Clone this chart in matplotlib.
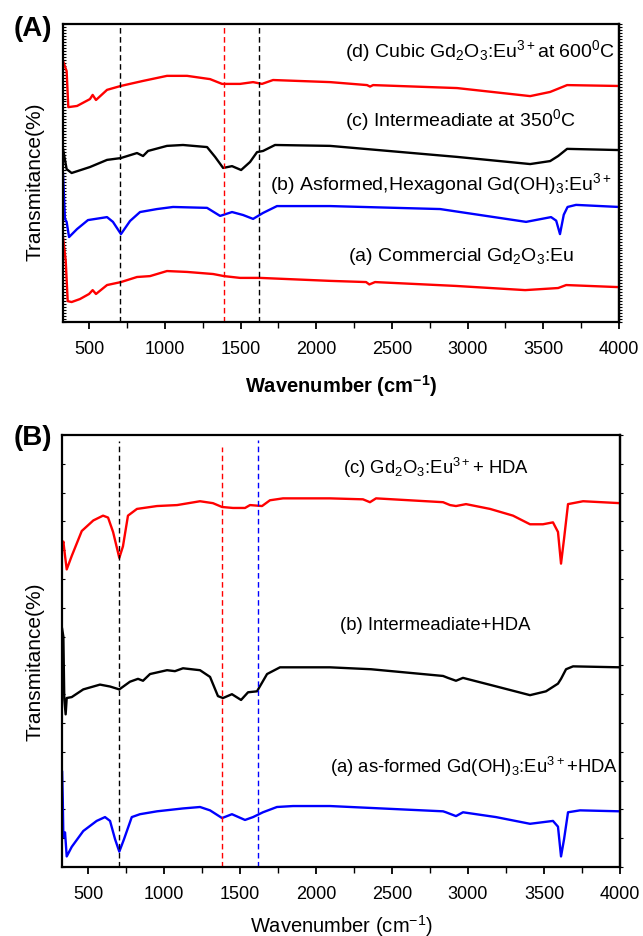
import matplotlib
matplotlib.use("Agg")
import matplotlib.pyplot as plt
from matplotlib.ticker import MultipleLocator

plt.rcParams['font.family'] = ['Liberation Sans', 'DejaVu Sans']
plt.rcParams['mathtext.fontset'] = 'custom'
plt.rcParams['mathtext.rm'] = 'Liberation Sans'
plt.rcParams['mathtext.it'] = 'Liberation Sans:italic'
plt.rcParams['mathtext.bf'] = 'Liberation Sans:bold'

# ---------------- Panel A data (arbitrary transmittance units, offset stacked) ----------------
a_a_x = [326, 344, 357, 383, 438, 498, 522, 544, 617, 709, 815, 901, 1013, 1146, 1318, 1390,
         1496, 1628, 2091, 2329, 2350, 2388, 2923, 3380, 3598, 3651, 4000]
a_a_y = [28.5, 20.5, 7.0, 6.7, 7.7, 9.4, 10.7, 9.4, 12.4, 13.4, 15.1, 15.4, 17.1, 16.8, 16.1, 15.4,
         14.8, 14.8, 13.8, 13.4, 12.6, 13.4, 12.1, 10.7, 11.4, 12.4, 11.7]

a_b_x = [326, 339, 350, 366, 419, 491, 617, 656, 709, 769, 835, 947, 1053, 1278, 1364, 1443,
         1516, 1582, 1648, 1740, 2091, 2818, 3386, 3551, 3585, 3610, 3635, 3660, 3716, 4000]
a_b_y = [49.7, 34.6, 33.6, 28.5, 31.2, 34.2, 35.2, 33.6, 29.5, 33.9, 36.9, 37.9, 38.6, 38.3, 35.6, 36.9,
         35.9, 34.6, 36.6, 38.9, 38.9, 37.9, 33.6, 35.2, 34.0, 29.5, 36.0, 38.6, 39.3, 38.6]

a_c_x = [326, 350, 383, 504, 617, 707, 815, 855, 888, 1013, 1119, 1278, 1331, 1384, 1443, 1503,
         1562, 1608, 1648, 1727, 2091, 2930, 3413, 3545, 3598, 3657, 4000]
a_c_y = [58.1, 51.3, 50.0, 52.0, 54.4, 55.0, 56.7, 55.7, 57.4, 59.1, 59.4, 58.7, 55.4, 51.7, 52.3, 51.0,
         53.7, 57.0, 57.4, 59.4, 59.1, 55.4, 53.0, 54.0, 55.7, 58.1, 57.7]

a_d_x = [326, 350, 361, 419, 504, 522, 544, 617, 707, 855, 1013, 1146, 1298, 1377, 1496, 1582,
         1641, 1714, 2091, 2335, 2355, 2375, 2930, 3413, 3545, 3657, 4000]
a_d_y = [87.6, 84.2, 72.1, 72.5, 74.8, 76.2, 74.5, 77.9, 79.2, 80.9, 82.6, 82.6, 81.5, 79.9, 79.9, 80.5,
         79.9, 81.2, 80.5, 79.5, 79.0, 79.5, 78.5, 75.8, 77.2, 79.5, 79.2]

a_vlines = [705, 1387, 1620]
a_vcolors = ['black', 'red', 'black']

a_labels = [r"(d) Cubic Gd$_2$O$_3$:Eu$^{3+}$at 600$^0$C",
            r"(c) Intermeadiate at 350$^0$C",
            r"(b) Asformed,Hexagonal Gd(OH)$_3$:Eu$^{3+}$",
            r"(a) Commercial Gd$_2$O$_3$:Eu"]

# ---------------- Panel B data ----------------
b_a_x = [330, 334, 338, 349, 360, 393, 469, 557, 612, 645, 678, 706, 737, 788, 842, 954, 1125,
         1237, 1303, 1382, 1447, 1533, 1586, 1651, 1743, 1849, 2092, 2836, 2855, 2921, 2967, 3184,
         3408, 3559, 3592, 3612, 3632, 3658, 3737, 4000]
b_a_y = [9.9, 7.1, 3.1, 3.6, 1.1, 2.1, 3.75, 4.8, 5.2, 4.8, 2.9, 1.6, 2.9, 5.2, 5.5, 5.8, 6.1,
         6.25, 5.9, 5.1, 5.5, 4.9, 5.2, 5.7, 6.25, 6.35, 6.35, 5.8, 5.7, 5.3, 5.7, 5.2,
         4.5, 4.8, 4.2, 1.1, 2.9, 5.7, 5.9, 5.8]

b_b_x = [330, 338, 344, 353, 360, 393, 469, 579, 645, 706, 776, 829, 862, 908, 1020, 1072, 1125,
         1237, 1303, 1355, 1388, 1447, 1507, 1553, 1612, 1678, 1763, 2092, 2362, 2836, 2868, 2921,
         2967, 3164, 3408, 3513, 3592, 3612, 3645, 3691, 4000]
b_b_y = [24.8, 24.0, 17.5, 15.9, 17.6, 17.7, 18.5, 19.0, 18.8, 18.5, 19.3, 19.6, 19.4, 20.1, 20.5, 20.4, 20.7,
         20.5, 19.8, 17.8, 17.6, 18.0, 17.4, 18.2, 18.3, 20.1, 20.8, 20.8, 20.6, 19.9, 19.7, 19.4,
         19.7, 18.9, 17.9, 18.3, 19.1, 19.6, 20.6, 20.9, 20.8]

b_c_x = [330, 338, 349, 360, 393, 459, 535, 599, 632, 665, 706, 730, 763, 822, 954, 1086, 1237,
         1322, 1382, 1454, 1533, 1566, 1645, 1697, 1783, 2092, 2309, 2355, 2395, 2836, 2882, 2921,
         2987, 3145, 3296, 3408, 3493, 3559, 3592, 3612, 3632, 3658, 3757, 4000]
b_c_y = [33.4, 33.9, 32.4, 31.0, 32.4, 35.0, 36.1, 36.6, 36.4, 34.9, 32.2, 33.4, 36.6, 37.3, 37.6, 37.7, 38.1,
         37.9, 37.5, 37.4, 37.4, 37.7, 37.6, 38.2, 38.4, 38.4, 38.3, 38.0, 38.4, 38.0, 37.7, 37.6,
         37.8, 37.3, 36.6, 35.7, 35.7, 35.9, 34.9, 31.6, 34.2, 37.8, 38.1, 37.9]

b_vlines = [706, 1382, 1616]
b_vcolors = ['black', 'red', 'blue']
b_vtops = [0.986, 0.972, 0.988]

b_labels = [r"(c) Gd$_2$O$_3$:Eu$^{3+}$+ HDA",
            r"(b) Intermeadiate+HDA",
            r"(a) as-formed Gd(OH)$_3$:Eu$^{3+}$+HDA"]

xticks = [500, 1000, 1500, 2000, 2500, 3000, 3500, 4000]

W, H = 643, 937
fig = plt.figure(figsize=(W / 100, H / 100), dpi=100)

def px_axes(l, t, r, b):
    return fig.add_axes([l / W, 1 - b / H, (r - l) / W, (b - t) / H])

axA = px_axes(63, 25, 619, 323)
axB = px_axes(62, 436, 620, 868)

lw = 1.7
axA.plot(a_a_x, a_a_y, color='red', lw=lw)
axA.plot(a_b_x, a_b_y, color='blue', lw=lw)
axA.plot(a_c_x, a_c_y, color='black', lw=lw)
axA.plot(a_d_x, a_d_y, color='red', lw=lw)
for xv, c in zip(a_vlines, a_vcolors):
    axA.axvline(xv, color=c, lw=1.0, ls=(0, (4, 2.5)))
axA.set_xlim(326, 4000)
axA.set_ylim(0, 100)

axB.plot(b_a_x, b_a_y, color='blue', lw=lw)
axB.plot(b_b_x, b_b_y, color='black', lw=lw)
axB.plot(b_c_x, b_c_y, color='red', lw=lw)
for xv, c, t in zip(b_vlines, b_vcolors, b_vtops):
    axB.axvline(xv, ymin=0, ymax=t, color=c, lw=1.0, ls=(0, (4, 2.5)))
axB.set_xlim(329, 4000)
axB.set_ylim(0, 45)

for ax, ystep in ((axA, 1.0), (axB, 3.0)):
    for s in ax.spines.values():
        s.set_linewidth(1.6)
    ax.set_xticks(xticks)
    ax.xaxis.set_minor_locator(MultipleLocator(250))
    ax.tick_params(axis='x', which='major', direction='out', length=5, width=1.3,
                   labelsize=13, pad=8, top=False)
    ax.tick_params(axis='x', which='minor', direction='out', length=4, width=1.0, top=False)
    ax.yaxis.set_major_locator(MultipleLocator(ystep))
    ax.tick_params(axis='y', which='major', direction='in', length=2, width=0.8,
                   labelleft=False, left=True)
    ax.yaxis.set_minor_locator(plt.NullLocator())
    sec = ax.secondary_yaxis('right')
    sec.yaxis.set_major_locator(MultipleLocator(ystep))
    sec.tick_params(direction='out', length=2.5, width=0.8, labelright=False)
    sec.spines['right'].set_linewidth(1.6)

axA.set_xlabel(r"Wavenumber (cm$\mathbf{^{-1}}$)", fontsize=14.5, fontweight='bold')
axA.xaxis.set_label_coords(0.5, -0.211)
axA.xaxis.label.set_va('center')
axB.set_xlabel(r"Wavenumber (cm$^{-1}$)", fontsize=14.5)
axB.xaxis.set_label_coords(0.5, -0.134)
axB.xaxis.label.set_va('center')

axA.set_ylabel("Transmitance(%)", fontsize=15)
axA.yaxis.set_label_coords(-0.05, 0.473)
axA.yaxis.label.set_va('center')
axB.set_ylabel("Transmitance(%)", fontsize=15)
axB.yaxis.set_label_coords(-0.048, 0.477)
axB.yaxis.label.set_va('center')

def ftext(x, y, s, **kw):
    fig.text(x / W, 1 - y / H, s, **kw)

# Panel A annotations (anchor x, baseline y in pixels)
a_pos = [(615, 57, 'right'), (345, 126, 'left'), (270, 190, 'left'), (348, 261, 'left')]
for (x, y, ha), s in zip(a_pos, a_labels):
    ftext(x, y, s, fontsize=14, ha=ha, va='baseline')
b_pos = [(343, 474), (340, 630), (330, 773)]
for (x, y), s in zip(b_pos, b_labels):
    ftext(x, y, s, fontsize=13.3, ha='left', va='baseline')

ftext(33, 29, "(A)", fontsize=20, fontweight='bold', ha='center', va='center')
ftext(33, 438, "(B)", fontsize=20, fontweight='bold', ha='center', va='center')

fig.savefig("out.png", dpi=100)
